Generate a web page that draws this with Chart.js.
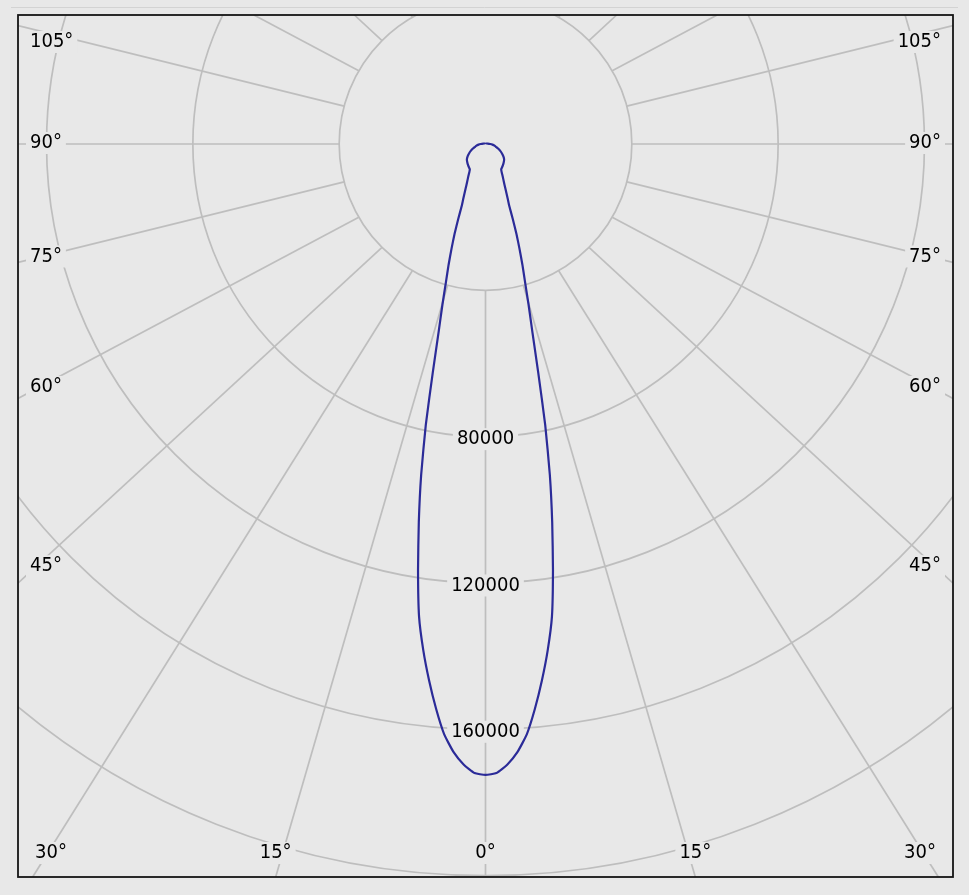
<!DOCTYPE html>
<html>
<head>
<meta charset="utf-8">
<script src="https://cdn.jsdelivr.net/npm/chart.js@4.4.1/dist/chart.umd.min.js"></script>
<style>
  html, body { margin: 0; padding: 0; background: #e8e8e8; }
  canvas { display: block; }
</style>
</head>
<body>
<canvas id="polarCanvas" width="969" height="895"></canvas>
<script>
// luminous intensity (cd) against gamma angle, same in both half planes
var gammaAngles = [0, 1, 2, 3, 4, 5, 6, 7, 8, 9, 10, 11, 12, 13, 14, 15, 16, 17, 18, 19, 20, 21, 22, 24, 26, 28, 30, 32, 35, 40, 45, 50, 55, 60, 65, 70, 75, 80, 85, 90, 100, 120, 150, 180];
var intensity   = [172500, 172000, 169800, 166500, 161800, 155000, 147500, 139500, 130500, 117900, 105000, 92200, 78500, 64000, 53000, 45500, 39200, 34500, 30000, 26000, 21800, 18100, 16300, 13400, 11400, 10000, 8800, 8100, 7850, 7450, 7050, 6650, 6000, 5200, 4450, 3650, 2950, 2500, 1900, 1300, 650, 250, 50, 0];

var ringValues = [40000, 80000, 120000, 160000, 200000, 240000];
var ringLabelValues = [80000, 120000, 160000];
var spokeAngles = [0, 15, 30, 45, 60, 75, 90, 105, 120, 135, 150, 165];

var bgColor = '#e8e8e8';
var gridColor = '#bebebe';
var labelFont = '20px "DejaVu Sans Condensed", "DejaVu Sans", sans-serif';

// curve points, left half then right half
var curve = [];
for (var i = gammaAngles.length - 1; i >= 0; i--) {
    var a = gammaAngles[i] * Math.PI / 180;
    curve.push({ x: -intensity[i] * Math.sin(a), y: -intensity[i] * Math.cos(a) });
}
for (var i = 1; i < gammaAngles.length; i++) {
    var a = gammaAngles[i] * Math.PI / 180;
    curve.push({ x: intensity[i] * Math.sin(a), y: -intensity[i] * Math.cos(a) });
}

function labelBox(ctx, text, x, y, align) {
    var w = ctx.measureText(text).width;
    var x0 = align === 'left' ? x : (align === 'right' ? x - w : x - w / 2);
    ctx.fillStyle = bgColor;
    ctx.fillRect(x0 - 4, y - 11, w + 8, 22);
    ctx.fillStyle = '#000';
    ctx.textAlign = align;
    ctx.fillText(text, x, y);
}

var polarGrid = {
    id: 'polarGrid',
    beforeDraw: function (chart) {
        var ctx = chart.ctx;
        ctx.save();
        ctx.fillStyle = bgColor;
        ctx.fillRect(0, 0, chart.width, chart.height);
        ctx.strokeStyle = '#d3d3d3';
        ctx.lineWidth = 1;
        ctx.beginPath();
        ctx.moveTo(11, 7.5);
        ctx.lineTo(958, 7.5);
        ctx.stroke();
        ctx.restore();
    },
    beforeDatasetsDraw: function (chart) {
        var ctx = chart.ctx;
        var area = chart.chartArea;
        var xs = chart.scales.x, ys = chart.scales.y;
        var cx = xs.getPixelForValue(0), cy = ys.getPixelForValue(0);
        var pxPer = xs.getPixelForValue(1000) - cx; // pixels per 1000 cd
        var k = (area.right - area.left) / (area.bottom - area.top);

        ctx.save();
        ctx.beginPath();
        ctx.rect(area.left, area.top, area.right - area.left, area.bottom - area.top);
        ctx.clip();

        ctx.strokeStyle = gridColor;
        ctx.lineWidth = 1.7;

        // rings
        ringValues.forEach(function (v) {
            ctx.beginPath();
            ctx.arc(cx, cy, v / 1000 * pxPer, 0, Math.PI * 2);
            ctx.stroke();
        });

        // spokes from the inner ring outward
        var r0 = ringValues[0] / 1000 * pxPer;
        var labels = [];
        spokeAngles.forEach(function (g) {
            var a = g * Math.PI / 180;
            [-1, 1].forEach(function (side) {
                if (g === 0 && side === 1) return;
                var px = cx + side * r0 * Math.sin(a);
                var py = cy + r0 * Math.cos(a);
                var dx = side * k * Math.sin(a), dy = Math.cos(a);
                var tx = Math.abs(dx) < 1e-9 ? Infinity : ((dx < 0 ? area.left : area.right) - px) / dx;
                var ty = Math.abs(dy) < 1e-9 ? Infinity : ((dy < 0 ? area.top : area.bottom) - py) / dy;
                var t = Math.min(tx, ty);
                ctx.beginPath();
                ctx.moveTo(px, py);
                ctx.lineTo(px + dx * t, py + dy * t);
                ctx.stroke();
                labels.push({ g: g, side: side, px: px, py: py, dx: dx, dy: dy, edge: tx <= ty ? 'side' : (dy > 0 ? 'bottom' : 'top') });
            });
        });

        ctx.font = labelFont;
        ctx.textBaseline = 'middle';

        // ring value labels along the 0 degree spoke
        ringLabelValues.forEach(function (v) {
            labelBox(ctx, String(v), cx, cy + v / 1000 * pxPer + 2.5, 'center');
        });

        // angle labels where spokes leave the frame
        labels.forEach(function (s) {
            var text = s.g + '\u00b0';
            var w = ctx.measureText(text).width;
            if (s.edge === 'side') {
                var lx = s.side < 0 ? area.left + 12 : area.right - 12;
                var slope = Math.abs(s.dy / s.dx);
                var ly = s.py + s.dy * ((lx - s.px) / s.dx) - (1 + 8 * Math.min(slope, 0.6));
                ly = Math.max(ly, area.top + 27);
                labelBox(ctx, text, lx, ly, s.side < 0 ? 'left' : 'right');
            } else if (s.edge === 'bottom') {
                var bx = s.px + s.dx * ((area.bottom - s.py) / s.dy);
                bx = Math.max(area.left + 17 + w / 2, Math.min(area.right - 17 - w / 2, bx));
                labelBox(ctx, text, bx, area.bottom - 24, 'center');
            }
        });
        ctx.restore();
    },
    afterDraw: function (chart) {
        var ctx = chart.ctx;
        var area = chart.chartArea;
        ctx.save();
        ctx.strokeStyle = '#151515';
        ctx.lineWidth = 1.8;
        ctx.strokeRect(area.left, area.top, area.right - area.left, area.bottom - area.top);
        ctx.restore();
    }
};

new Chart(document.getElementById('polarCanvas'), {
    type: 'scatter',
    data: {
        datasets: [{
            label: 'Intensity',
            data: curve,
            showLine: true,
            borderColor: '#2b2b98',
            borderWidth: 2.2,
            pointRadius: 0,
            tension: 0.15,
            fill: false
        }]
    },
    options: {
        responsive: false,
        animation: false,
        events: [],
        layout: { padding: { left: 18, top: 15, right: 16, bottom: 18 } },
        plugins: { legend: { display: false }, tooltip: { enabled: false } },
        scales: {
            x: { type: 'linear', display: false, min: -127800, max: 127800 },
            y: { type: 'linear', display: false, min: -200400, max: 35270 }
        }
    },
    plugins: [polarGrid]
});
</script>
</body>
</html>
